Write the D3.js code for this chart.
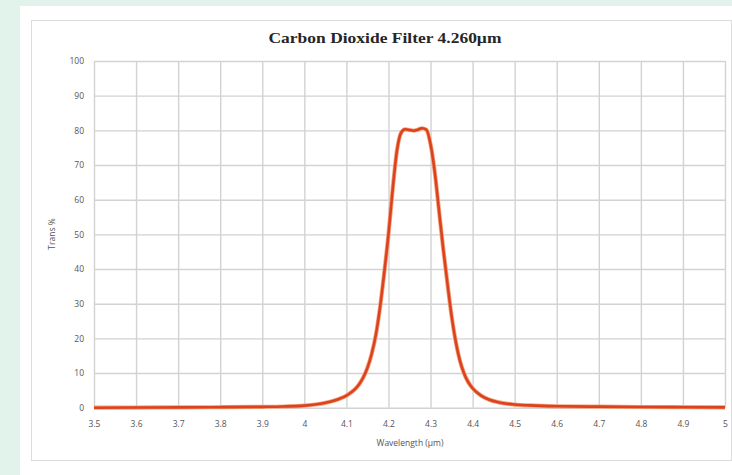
<!DOCTYPE html>
<html>
<head>
<meta charset="utf-8">
<script src="https://cdn.jsdelivr.net/npm/d3@7"></script>
<style>
  html, body { margin: 0; padding: 0; }
  body { width: 732px; height: 475px; overflow: hidden; background: #e1f3eb; }
</style>
</head>
<body>
<svg id="chart" width="732" height="475"></svg>
<script>
const title = "Carbon Dioxide Filter 4.260µm";
const xLabel = "Wavelength (µm)";
const yLabel = "Trans %";
const xTicks = [3.5, 3.6, 3.7, 3.8, 3.9, 4, 4.1, 4.2, 4.3, 4.4, 4.5, 4.6, 4.7, 4.8, 4.9, 5];
const yTicks = [0, 10, 20, 30, 40, 50, 60, 70, 80, 90, 100];
const wavelength = [3.5, 3.6, 3.7, 3.8, 3.9, 3.95, 4.0, 4.03, 4.05, 4.07, 4.09, 4.10, 4.11, 4.12, 4.13, 4.14, 4.15, 4.16, 4.17, 4.18, 4.19, 4.20, 4.21, 4.22, 4.23, 4.24, 4.25, 4.26, 4.27, 4.28, 4.29, 4.30, 4.31, 4.32, 4.33, 4.34, 4.35, 4.36, 4.37, 4.38, 4.39, 4.40, 4.42, 4.44, 4.46, 4.50, 4.55, 4.6, 4.7, 4.8, 4.9, 5.0];
const transmission = [0.0, 0.05, 0.1, 0.15, 0.25, 0.35, 0.6, 1.0, 1.4, 2.0, 2.9, 3.5, 4.3, 5.3, 6.7, 8.7, 11.5, 15.5, 21, 29, 39, 50, 63, 74, 79.3, 80.3, 80.1, 79.9, 80.2, 80.6, 80.2, 76, 68, 57, 46, 36, 26.5, 19, 13.5, 9.8, 7.3, 5.6, 3.5, 2.3, 1.6, 0.9, 0.6, 0.4, 0.3, 0.2, 0.15, 0.1];

const svg = d3.select("#chart");

// background panels
svg.append("rect").attr("x", 20).attr("y", 6).attr("width", 712).attr("height", 469).attr("fill", "#ffffff");
svg.append("rect").attr("x", 31.5).attr("y", 20.5).attr("width", 700).attr("height", 440)
  .attr("fill", "#ffffff").attr("stroke", "#dcdcdc").attr("stroke-width", 1);

const x = d3.scaleLinear().domain([3.5, 5]).range([94, 725]);
const y = d3.scaleLinear().domain([0, 100]).range([407.7, 61]);

// gridlines
const gx = svg.append("g").attr("transform", `translate(0,${y(0)})`)
  .call(d3.axisBottom(x).tickValues(xTicks).tickSize(-(y(0) - y(100))).tickFormat(""));
gx.selectAll("line").attr("stroke", "#d2d2d2").attr("stroke-width", 1.4);
gx.select(".domain").remove();

const gy = svg.append("g").attr("transform", `translate(${x(3.5)},0)`)
  .call(d3.axisLeft(y).tickValues(yTicks).tickSize(-(x(5) - x(3.5))).tickFormat(""));
gy.selectAll("line").attr("stroke", "#d2d2d2").attr("stroke-width", 1.4);
gy.select(".domain").remove();

// tick labels
const labelFont = "'Open Sans', 'Liberation Sans', sans-serif";
const ax = svg.append("g").attr("transform", `translate(0,${y(0)})`)
  .call(d3.axisBottom(x).tickValues(xTicks).tickSize(0).tickPadding(13).tickFormat(d => d3.format("")(d)));
ax.select(".domain").remove();
ax.selectAll("text").attr("font-family", labelFont).attr("font-size", 8.5).attr("fill", "#555555");

const ay = svg.append("g").attr("transform", `translate(${x(3.5)},0)`)
  .call(d3.axisLeft(y).tickValues(yTicks).tickSize(0).tickPadding(10));
ay.select(".domain").remove();
ay.selectAll("text").attr("font-family", labelFont).attr("font-size", 8.5).attr("fill", "#555555");

// axis titles
svg.append("text").attr("x", 410).attr("y", 446).attr("text-anchor", "middle")
  .attr("font-family", labelFont).attr("font-size", 8.5).attr("fill", "#555555").text(xLabel);
svg.append("text").attr("transform", "translate(55,234) rotate(-90)").attr("text-anchor", "middle")
  .attr("font-family", labelFont).attr("font-size", 8.5).attr("fill", "#555555").text(yLabel);

// title
svg.append("text").attr("x", 385).attr("y", 43).attr("text-anchor", "middle")
  .attr("font-family", "'Liberation Serif', 'Times New Roman', serif").attr("font-weight", "bold")
  .attr("font-size", 15.5).attr("textLength", 233).attr("lengthAdjust", "spacingAndGlyphs")
  .attr("fill", "#262626").text(title);

// curve
const data = wavelength.map((w, i) => ({ w, t: transmission[i] }));
const line = d3.line().x(d => x(d.w)).y(d => y(d.t)).curve(d3.curveMonotoneX);
svg.append("path").datum(data).attr("d", line)
  .attr("fill", "none").attr("stroke", "#f3a27a").attr("stroke-width", 4.2).attr("stroke-linejoin", "round");
svg.append("path").datum(data).attr("d", line)
  .attr("fill", "none").attr("stroke", "#db421f").attr("stroke-width", 2.6).attr("stroke-linejoin", "round");
</script>
</body>
</html>
